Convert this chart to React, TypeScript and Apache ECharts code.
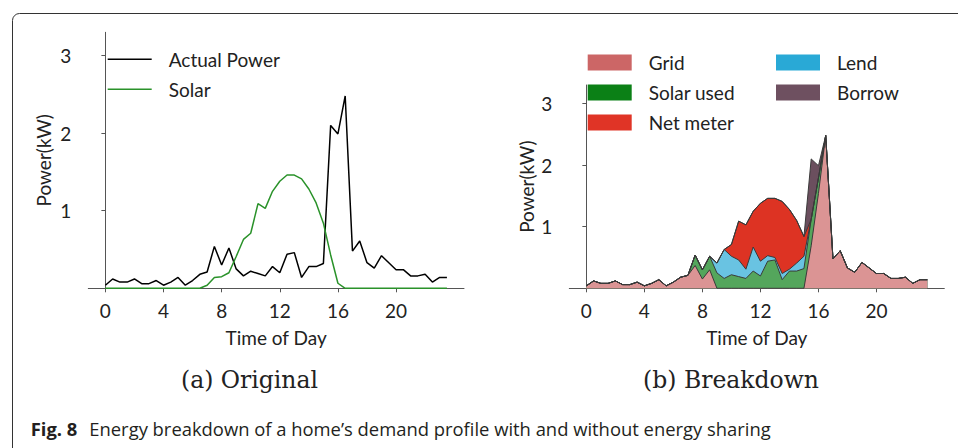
import React, { useEffect, useRef } from "react";
import * as echarts from "echarts";

// Time of day (hours), half-hour steps
const hours = [
  0, 0.5, 1, 1.5, 2, 2.5, 3, 3.5, 4, 4.5, 5, 5.5, 6, 6.5, 7, 7.5, 8, 8.5, 9, 9.5,
  10, 10.5, 11, 11.5, 12, 12.5, 13, 13.5, 14, 14.5, 15, 15.5, 16, 16.5, 17, 17.5,
  18, 18.5, 19, 19.5, 20, 20.5, 21, 21.5, 22, 22.5, 23, 23.5,
];

// (a) Original
const actualPower = [
  0.04, 0.12, 0.08, 0.08, 0.12, 0.06, 0.06, 0.1, 0.04, 0.08,
  0.14, 0.04, 0.1, 0.18, 0.21, 0.54, 0.3, 0.52, 0.25, 0.16,
  0.22, 0.19, 0.16, 0.28, 0.2, 0.44, 0.46, 0.14, 0.28, 0.28,
  0.32, 2.1, 1.99, 2.48, 0.48, 0.61, 0.33, 0.26, 0.42, 0.33,
  0.24, 0.24, 0.16, 0.16, 0.18, 0.08, 0.14, 0.14,
];
const solar = [
  0, 0, 0, 0, 0, 0, 0, 0, 0, 0,
  0, 0, 0, 0, 0.04, 0.14, 0.15, 0.2, 0.41, 0.63,
  0.71, 1.09, 1.03, 1.25, 1.38, 1.46, 1.46, 1.41, 1.28, 1.1,
  0.84, 0.43, 0.065, 0, 0, 0, 0, 0, 0, 0,
  0, 0, 0, 0, 0, 0, 0, 0,
];

// (b) Breakdown (stack components, bottom to top)
const gridDraw = [
  0.04, 0.12, 0.08, 0.08, 0.12, 0.06, 0.06, 0.1, 0.04, 0.08,
  0.14, 0.04, 0.1, 0.18, 0.21, 0.37, 0.15, 0.3, 0, 0,
  0, 0, 0, 0, 0, 0, 0, 0, 0, 0,
  0, 0.69, 1.54, 2.48, 0.48, 0.61, 0.33, 0.26, 0.42, 0.33,
  0.24, 0.24, 0.16, 0.16, 0.18, 0.08, 0.14, 0.14,
];
const solarUsed = [
  0, 0, 0, 0, 0, 0, 0, 0, 0, 0,
  0, 0, 0, 0, 0, 0.17, 0.15, 0.22, 0.25, 0.16,
  0.22, 0.19, 0.16, 0.28, 0.2, 0.44, 0.46, 0.14, 0.28, 0.28,
  0.32, 0.43, 0.25, 0, 0, 0, 0, 0, 0, 0,
  0, 0, 0, 0, 0, 0, 0, 0,
];
const lend = [
  0, 0, 0, 0, 0, 0, 0, 0, 0, 0,
  0, 0, 0, 0, 0, 0, 0, 0, 0.16, 0.47,
  0.3, 0.27, 0.15, 0.39, 0.24, 0.09, 0.04, 0.1, 0.03, 0.13,
  0.2, 0, 0, 0, 0, 0, 0, 0, 0, 0,
  0, 0, 0, 0, 0, 0, 0, 0,
];
const netMeter = [
  0, 0, 0, 0, 0, 0, 0, 0, 0, 0,
  0, 0, 0, 0, 0, 0, 0, 0, 0, 0,
  0.19, 0.63, 0.72, 0.58, 0.94, 0.93, 0.96, 1.17, 0.97, 0.69,
  0.32, 0, 0, 0, 0, 0, 0, 0, 0, 0,
  0, 0, 0, 0, 0, 0, 0, 0,
];
const borrow = [
  0, 0, 0, 0, 0, 0, 0, 0, 0, 0,
  0, 0, 0, 0, 0, 0, 0, 0, 0, 0,
  0, 0, 0, 0, 0, 0, 0, 0, 0, 0,
  0, 0.98, 0.2, 0, 0, 0, 0, 0, 0, 0,
  0, 0, 0, 0, 0, 0, 0, 0,
];

const xTicks = [0, 4, 8, 12, 16, 20];
const yTicks = [1, 2, 3];

const FONT = "Lato";
const TXT = "#222";
const AX = "#555";

const pairs = (arr: number[]) => hours.map((h, i) => [h, arr[i]]);

// cumulative top of the k-th layer (stacked area), built from the components
const layers = [gridDraw, solarUsed, lend, netMeter, borrow];
const cumTop = (k: number) =>
  hours.map((h, i) => {
    let s = 0;
    for (let j = 0; j <= k; j++) s += layers[j][i];
    return [h, Math.round(s * 1000) / 1000];
  });

function makeX(gridIndex: number) {
  return {
    type: "value",
    gridIndex,
    min: -1.175,
    max: 24.675,
    name: "Time of Day",
    nameLocation: "middle",
    nameGap: 40,
    nameTextStyle: { fontFamily: FONT, fontSize: 19, color: TXT },
    axisLine: { show: true, lineStyle: { color: AX, width: 1 } },
    axisTick: { show: true, inside: false, length: 4, customValues: xTicks, lineStyle: { color: AX } },
    axisLabel: { customValues: xTicks, margin: 13, fontFamily: FONT, fontSize: 19, color: TXT },
    splitLine: { show: false },
  };
}
function makeY(gridIndex: number, nameGap: number) {
  return {
    type: "value",
    gridIndex,
    min: 0,
    max: 3.3,
    name: "Power(kW)",
    nameLocation: "middle",
    nameGap,
    nameTextStyle: { fontFamily: FONT, fontSize: 19, color: TXT },
    axisLine: { show: true, lineStyle: { color: AX, width: 1 } },
    axisTick: { show: true, inside: false, length: 4, customValues: yTicks, lineStyle: { color: AX } },
    axisLabel: { customValues: yTicks, margin: 17, fontFamily: FONT, fontSize: 19, color: TXT },
    splitLine: { show: false },
  };
}

function areaSeries(name: string, k: number, legendColor: string, fill: string) {
  return {
    name,
    type: "line",
    xAxisIndex: 1,
    yAxisIndex: 1,
    data: cumTop(k),
    symbol: "none",
    showSymbol: false,
    color: legendColor,
    itemStyle: { color: legendColor },
    lineStyle: { color: "#3a3a3a", width: 1 },
    areaStyle: { color: fill, opacity: 1 },
  };
}

export default function App() {
  const ref = useRef<HTMLDivElement>(null);
  useEffect(() => {
    if (!ref.current) return;
    const chart = echarts.init(ref.current, null, { renderer: "svg" });
    const legendText = { fontFamily: FONT, fontSize: 19, color: TXT, lineHeight: 20, padding: [0, 0, 0, 12] };
    chart.setOption({
      animation: false,
      backgroundColor: "#fff",
      grid: [
        { left: 88.3, top: 32.3, width: 375.7, height: 256 },
        { left: 569.3, top: 85, width: 375, height: 203.3 },
      ],
      xAxis: [makeX(0), makeX(1)],
      yAxis: [makeY(0, 35.5), makeY(1, 33)],
      legend: [
        {
          orient: "vertical",
          left: 107.7,
          top: 49.3,
          padding: 0,
          itemWidth: 44,
          itemHeight: 1.6,
          itemGap: 10,
          icon: "rect",
          itemStyle: { borderWidth: 0 },
          textStyle: legendText,
          data: ["Actual Power", "Solar"],
        },
        {
          orient: "vertical",
          left: 587.7,
          top: 52.5,
          padding: 0,
          itemWidth: 44,
          itemHeight: 16,
          itemGap: 10,
          icon: "rect",
          itemStyle: { borderWidth: 0 },
          textStyle: legendText,
          data: ["Grid", "Solar used", "Net meter"],
        },
        {
          orient: "vertical",
          left: 776,
          top: 52.5,
          padding: 0,
          itemWidth: 44,
          itemHeight: 16,
          itemGap: 10,
          icon: "rect",
          itemStyle: { borderWidth: 0 },
          textStyle: legendText,
          data: ["Lend", "Borrow"],
        },
      ],
      series: [
        {
          name: "Actual Power",
          type: "line",
          xAxisIndex: 0,
          yAxisIndex: 0,
          data: pairs(actualPower),
          symbol: "none",
          showSymbol: false,
          color: "#000",
          lineStyle: { color: "#000", width: 1.5 },
        },
        {
          name: "Solar",
          type: "line",
          xAxisIndex: 0,
          yAxisIndex: 0,
          data: pairs(solar),
          symbol: "none",
          showSymbol: false,
          color: "#2a922a",
          lineStyle: { color: "#2a922a", width: 1.5 },
        },
        // drawn top layer first so that each lower layer covers its own part
        areaSeries("Borrow", 4, "#6e5060", "#6b4f5e"),
        areaSeries("Net meter", 3, "#e03426", "#dd3323"),
        areaSeries("Lend", 2, "#29a9d6", "#69c3e2"),
        areaSeries("Solar used", 1, "#0b8016", "#54a65c"),
        areaSeries("Grid", 0, "#cc6666", "#db9494"),
      ],
      graphic: [
        {
          type: "rect",
          shape: { x: 12.5, y: 13.5, width: 1200, height: 1000, r: [7, 0, 0, 0] },
          style: { fill: "none", stroke: "#333", lineWidth: 1 },
          silent: true,
        },
        {
          type: "text",
          x: 249.5,
          y: 380,
          style: {
            text: "(a) Original",
            font: '23.5px "DejaVu Serif"',
            fill: TXT,
            align: "center",
            verticalAlign: "middle",
            textAlign: "center",
            textVerticalAlign: "middle",
          },
        },
        {
          type: "text",
          x: 731,
          y: 380,
          style: {
            text: "(b) Breakdown",
            font: '23.5px "DejaVu Serif"',
            fill: TXT,
            align: "center",
            verticalAlign: "middle",
            textAlign: "center",
            textVerticalAlign: "middle",
          },
        },
        {
          type: "text",
          x: 30.7,
          y: 428,
          style: {
            text: "Fig. 8",
            font: 'bold 18.4px "Open Sans"',
            fill: "#231f20",
            align: "left",
            verticalAlign: "middle",
            textAlign: "left",
            textVerticalAlign: "middle",
          },
        },
        {
          type: "text",
          x: 89.3,
          y: 428,
          style: {
            text: "Energy breakdown of a home\u2019s demand profile with and without energy sharing",
            font: '18.4px "Open Sans"',
            fill: "#231f20",
            align: "left",
            verticalAlign: "middle",
            textAlign: "left",
            textVerticalAlign: "middle",
          },
        },
      ],
    });
    return () => chart.dispose();
  }, []);
  return (
    <div
      ref={ref}
      style={{ position: "absolute", left: 0, top: 0, width: 958, height: 448, background: "#fff" }}
    />
  );
}
